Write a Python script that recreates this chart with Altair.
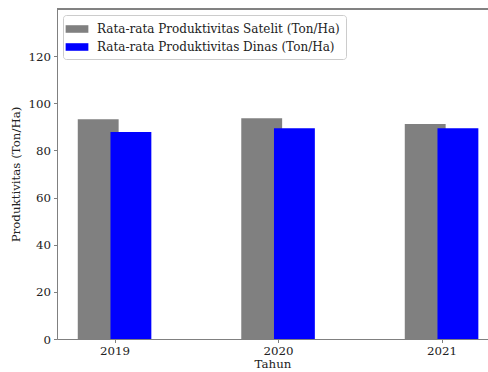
import json
import altair as alt
import pandas as pd

# Average productivity per year (Ton/Ha)
years = ["2019", "2020", "2021"]
satelit = [93.2, 93.7, 91.2]
dinas = [87.8, 89.4, 89.4]

series_names = [
    "Rata-rata Produktivitas Satelit (Ton/Ha)",
    "Rata-rata Produktivitas Dinas (Ton/Ha)",
]
series_values = [satelit, dinas]
series_colors = ["#808080", "#0000ff"]

# bar geometry in x-axis units (years are placed at 0, 1, 2)
bar_offsets = [-0.1, 0.1]
bar_width = 0.25

rows = []
for name, vals, off in zip(series_names, series_values, bar_offsets):
    for i, (yr, v) in enumerate(zip(years, vals)):
        rows.append({"idx": i, "tahun": yr, "seri": name, "nilai": v, "off": off})
df = pd.DataFrame(rows)

FONT = "DejaVu Serif"
FRAME = "#808080"

x_scale = alt.Scale(domain=[-0.352, 2.284], nice=False, zero=False)
y_scale = alt.Scale(domain=[0, 140], nice=False)

bars = (
    alt.Chart(df)
    .transform_calculate(
        x0=f"datum.idx + datum.off - {bar_width / 2}",
        x1=f"datum.idx + datum.off + {bar_width / 2}",
    )
    .mark_bar(stroke=None)
    .encode(
        x=alt.X(
            "x0:Q",
            scale=x_scale,
            title="Tahun",
            axis=alt.Axis(
                values=list(range(len(years))),
                labelExpr=f"{json.dumps(years)}[datum.value]",
                grid=False,
                tickSize=3.5,
                labelPadding=3,
                titlePadding=1.5,
            ),
        ),
        x2="x1:Q",
        y=alt.Y(
            "nilai:Q",
            scale=y_scale,
            title="Produktivitas (Ton/Ha)",
            axis=alt.Axis(
                values=[0, 20, 40, 60, 80, 100, 120],
                grid=False,
                tickSize=3.5,
                labelPadding=3,
                titlePadding=6,
            ),
        ),
        y2=alt.datum(0),
        color=alt.Color(
            "seri:N",
            scale=alt.Scale(domain=series_names, range=series_colors),
            legend=alt.Legend(
                title=None,
                orient="none",
                legendX=6,
                legendY=6,
                symbolType="M-1.5,-0.5H1.5V0.5H-1.5Z",
                symbolSize=230,
                symbolStrokeWidth=0,
                fillColor="white",
                strokeColor="#cccccc",
                cornerRadius=3,
                padding=6,
                rowPadding=4,
                labelOffset=12,
            ),
        ),
        order=alt.Order("off:Q"),
    )
)

# top edge of the frame
top_edge = alt.Chart(df).mark_rule(color=FRAME, strokeWidth=1).encode(y=alt.datum(140))

chart = (
    alt.layer(bars, top_edge)
    .properties(
        width=431,
        height=330,
        autosize=alt.AutoSizeParams(type="none"),
        padding={"left": 57, "top": 9, "right": 0, "bottom": 33},
        background="white",
    )
    .configure_view(stroke=None)
    .configure_axis(
        labelFont=FONT,
        titleFont=FONT,
        labelFontSize=11.8,
        titleFontSize=11.8,
        labelColor="#222222",
        titleColor="#222222",
        titleFontWeight="normal",
        domainColor=FRAME,
        tickColor=FRAME,
        domainWidth=1,
    )
    .configure_legend(
        labelFont=FONT,
        labelFontSize=12,
        labelColor="#222222",
        labelLimit=400,
    )
)

chart.save("out.html", embed_options={"renderer": "svg", "actions": False})
